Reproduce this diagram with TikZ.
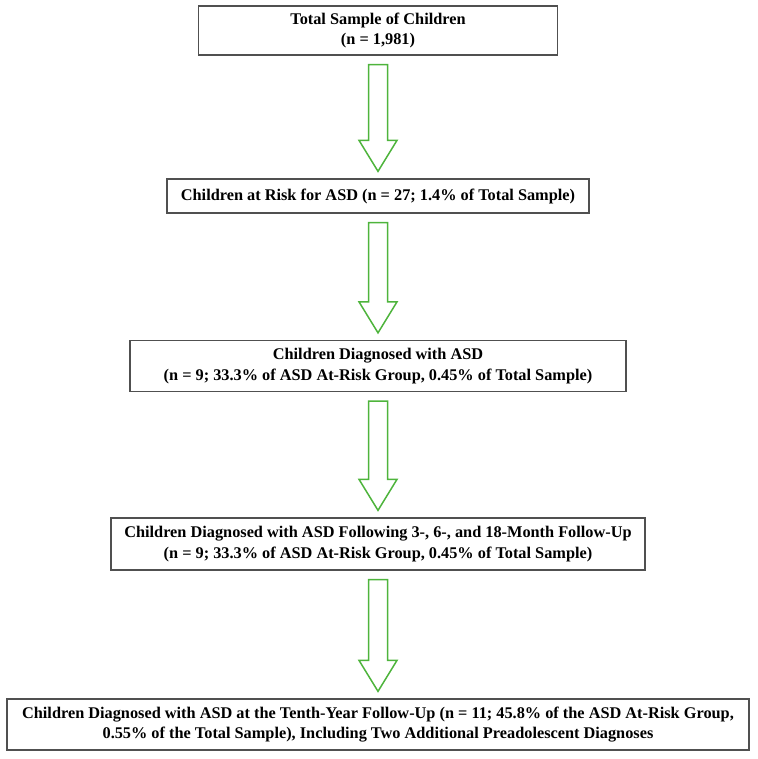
\documentclass[tikz,border=0pt]{standalone}
\usepackage{fontspec}
\setmainfont{Liberation Serif}
\usetikzlibrary{calc}
\definecolor{flowgreen}{RGB}{78,180,60}
\definecolor{boxgray}{RGB}{80,80,80}

\begin{document}
\begin{tikzpicture}[
          x=1pt, y=-1pt,
          box/.style={draw=boxgray, line width=1.3pt, fill=white,
                      align=center, inner sep=0pt,
                      font=\fontsize{16.3}{20.5}\selectfont\bfseries},
          blk/.style={draw=flowgreen, line width=1.5pt, fill=white,
                      line join=miter}
        ]
          \useasboundingbox (0,0) rectangle (757,759);
          \node[box, minimum width=359, minimum height=49] (total) at (378,30.5)
            {Total Sample of Children\\(n = 1,981)};
          \node[box, minimum width=422, minimum height=34] (risk) at (378,196)
            {Children at Risk for ASD (n = 27; 1.4\% of Total Sample)};
          \node[box, minimum width=496, minimum height=51] (diag) at (378,366)
            {Children Diagnosed with ASD\\(n = 9; 33.3\% of ASD At-Risk Group, 0.45\% of Total Sample)};
          \node[box, minimum width=534, minimum height=52] (follow) at (378,544)
            {Children Diagnosed with ASD Following 3-, 6-, and 18-Month Follow-Up\\(n = 9; 33.3\% of ASD At-Risk Group, 0.45\% of Total Sample)};
          \node[box, minimum width=742, minimum height=51] (tenth) at (378,724.5)
            {Children Diagnosed with ASD at the Tenth-Year Follow-Up (n = 11; 45.8\% of the ASD At-Risk Group,\\0.55\% of the Total Sample), Including Two Additional Preadolescent Diagnoses};
          \foreach \a/\b in {total/risk, risk/diag, diag/follow, follow/tenth}
            \draw[blk] ($(\a.south)+(-9.5,9)$) -- ($(\b.north)+(-9.5,-38)$)
              -- ($(\b.north)+(-19,-38)$) -- ($(\b.north)+(0,-7)$)
              -- ($(\b.north)+(19,-38)$) -- ($(\b.north)+(9.5,-38)$)
              -- ($(\a.south)+(9.5,9)$) -- cycle;
        \end{tikzpicture}
\end{document}
